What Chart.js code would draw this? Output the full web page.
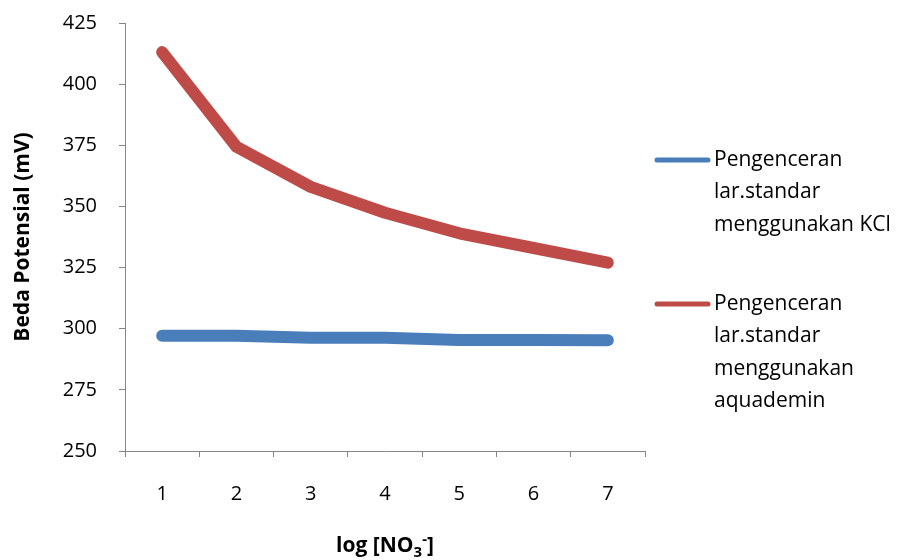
<!DOCTYPE html>
<html>
<head>
<meta charset="utf-8">
<script src="https://cdn.jsdelivr.net/npm/chart.js@4/dist/chart.umd.min.js"></script>
<style>
  html, body { margin: 0; padding: 0; background: #fff; }
  #wrap { width: 909px; height: 560px; }
</style>
</head>
<body>
<div id="wrap"><canvas id="c" width="909" height="560"></canvas></div>
<script>
// Potential difference vs. log[NO3-] for two dilution methods
const categories = ['1', '2', '3', '4', '5', '6', '7'];
const kclValues = [297.1, 297.1, 296.3, 296.3, 295.4, 295.4, 295.3];
const aquademinValues = [413.1, 374.4, 358.0, 347.4, 339.0, 333.0, 327.0];
const yMin = 250, yMax = 425, yStep = 25;

const kclLegend = ['Pengenceran', 'lar.standar', 'menggunakan KCl'];
const aquademinLegend = ['Pengenceran', 'lar.standar', 'menggunakan', 'aquademin'];

const FONT = '"Open Sans", Lato, sans-serif';
const AXIS_GREY = '#868686';
const BLUE = '#4A7EBB';
const RED = '#BE4B48';

// Legend on the right: short line sample plus wrapped label lines
const sideLegend = {
  id: 'sideLegend',
  afterDraw(chart) {
    const ctx = chart.ctx;
    const items = [
      { color: BLUE, lines: kclLegend, y: 160 },
      { color: RED, lines: aquademinLegend, y: 304 }
    ];
    ctx.save();
    ctx.font = '21px ' + FONT;
    ctx.fillStyle = '#000';
    ctx.textBaseline = 'middle';
    ctx.textAlign = 'left';
    items.forEach(it => {
      ctx.strokeStyle = it.color;
      ctx.lineWidth = 5;
      ctx.lineCap = 'round';
      ctx.beginPath();
      ctx.moveTo(657, it.y);
      ctx.lineTo(708, it.y);
      ctx.stroke();
      it.lines.forEach((t, i) => ctx.fillText(t, 714, it.y + i * 32.5));
    });
    ctx.restore();
  }
};

// X axis title with subscript and superscript
const xTitle = {
  id: 'xTitle',
  afterDraw(chart) {
    const ctx = chart.ctx;
    const area = chart.chartArea;
    const parts = [
      { t: 'log [NO', size: 21, dy: 0 },
      { t: '3', size: 15, dy: 5 },
      { t: '-', size: 15, dy: -8 },
      { t: ']', size: 21, dy: 0 }
    ];
    ctx.save();
    ctx.fillStyle = '#000';
    ctx.textBaseline = 'alphabetic';
    ctx.textAlign = 'left';
    let total = 0;
    parts.forEach(p => { ctx.font = 'bold ' + p.size + 'px ' + FONT; p.w = ctx.measureText(p.t).width; total += p.w; });
    let x = (area.left + area.right) / 2 - total / 2;
    const base = 552;
    parts.forEach(p => {
      ctx.font = 'bold ' + p.size + 'px ' + FONT;
      ctx.fillText(p.t, x, base + p.dy);
      x += p.w;
    });
    ctx.restore();
  }
};

new Chart(document.getElementById('c'), {
  type: 'line',
  data: {
    labels: categories,
    datasets: [
      {
        label: kclLegend.join(' '),
        data: kclValues,
        borderColor: BLUE,
        backgroundColor: BLUE,
        borderWidth: 12,
        borderCapStyle: 'round',
        borderJoinStyle: 'round',
        pointRadius: 0,
        tension: 0
      },
      {
        label: aquademinLegend.join(' '),
        data: aquademinValues,
        borderColor: RED,
        backgroundColor: RED,
        borderWidth: 12,
        borderCapStyle: 'round',
        borderJoinStyle: 'round',
        pointRadius: 0,
        tension: 0
      }
    ]
  },
  options: {
    responsive: false,
    animation: false,
    devicePixelRatio: 1,
    layout: { padding: { left: 10, top: 23, right: 264, bottom: 0 } },
    plugins: {
      legend: { display: false },
      tooltip: { enabled: false }
    },
    scales: {
      x: {
        type: 'category',
        offset: true,
        grid: {
          display: true,
          offset: true,
          drawOnChartArea: false,
          drawTicks: true,
          tickLength: 6,
          color: AXIS_GREY
        },
        border: { display: true, color: AXIS_GREY, width: 1 },
        ticks: { color: '#000', font: { family: FONT, size: 20 }, padding: 25, maxRotation: 0 },
        afterFit(scale) { scale.height = 109; }
      },
      y: {
        min: yMin,
        max: yMax,
        ticks: {
          stepSize: yStep,
          color: '#000',
          font: { family: FONT, size: 20 },
          padding: 22
        },
        grid: {
          display: true,
          drawOnChartArea: false,
          drawTicks: true,
          tickLength: 6,
          color: AXIS_GREY
        },
        border: { display: true, color: AXIS_GREY, width: 1 },
        title: {
          display: true,
          text: 'Beda Potensial (mV)',
          color: '#000',
          font: { family: FONT, size: 21, weight: 'bold' },
          padding: { top: 0, bottom: 2 }
        },
        afterFit(scale) {
          scale.width = 115;
          scale.paddingTop = 0;
          scale.paddingBottom = 0;
        }
      }
    }
  },
  plugins: [sideLegend, xTitle]
});
</script>
</body>
</html>
